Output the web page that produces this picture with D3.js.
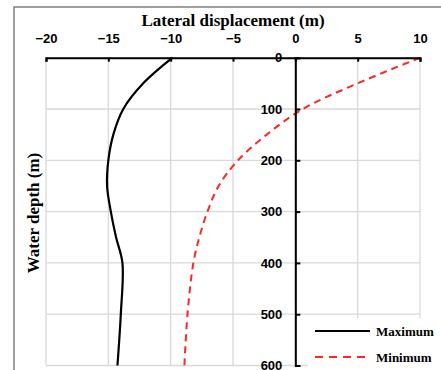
<!DOCTYPE html>
<html>
<head>
<meta charset="utf-8">
<script src="https://cdn.jsdelivr.net/npm/d3@7"></script>
<style>
  body { margin: 0; background: #fff; }
  svg { display: block; }
</style>
</head>
<body>
<div id="chart"></div>
<script>
// depth (m) and lateral displacement (m)
let depths = [0, 50, 100, 150, 200, 250, 300, 350, 400, 500, 600];
let maxDisp = [-9.85, -12.2, -13.8, -14.6, -15.0, -15.1, -14.8, -14.38, -13.87, -14.0, -14.27];
let minDisp = [10, 5.0, 0.6, -2.3, -4.6, -6.15, -7.05, -7.7, -8.18, -8.65, -8.9];
let xTicks = [-20, -15, -10, -5, 0, 5, 10];
let yTicks = [0, 100, 200, 300, 400, 500, 600];
let seriesNames = ["Maximum", "Minimum"];

let svg = d3.select("#chart").append("svg")
    .attr("width", 441)
    .attr("height", 370);

let xScale = d3.scaleLinear().domain([-20, 10]).range([46, 420]);
let yScale = d3.scaleLinear().domain([0, 600]).range([57.7, 365.5]);

// outer frame
svg.append("path")
    .attr("d", "M14,370 L14,7 L441,7")
    .attr("fill", "none")
    .attr("stroke", "#808080")
    .attr("stroke-width", 1.5);

// gridlines
let grid = svg.append("g");
grid.selectAll(".vg")
    .data(xTicks)
    .join("line")
    .attr("x1", d => xScale(d)).attr("x2", d => xScale(d))
    .attr("y1", yScale(0)).attr("y2", yScale(600))
    .attr("stroke", "#d9d9d9").attr("stroke-width", 1.3);
grid.selectAll(".hg")
    .data(yTicks)
    .join("line")
    .attr("y1", d => yScale(d)).attr("y2", d => yScale(d))
    .attr("x1", xScale(-20)).attr("x2", xScale(10))
    .attr("stroke", "#d9d9d9").attr("stroke-width", 1.3);

// series lines
let line = function(vals, curve) {
    return d3.line()
        .x((d, i) => xScale(vals[i]))
        .y(d => yScale(d))
        .curve(curve)(depths);
};

svg.append("path")
    .attr("d", line(maxDisp, d3.curveCatmullRom.alpha(0.5)))
    .attr("fill", "none")
    .attr("stroke", "#000")
    .attr("stroke-width", 2.2);

svg.append("path")
    .attr("d", line(minDisp, d3.curveCatmullRom.alpha(0.5)))
    .attr("fill", "none")
    .attr("stroke", "#ff2626")
    .attr("stroke-width", 2)
    .attr("stroke-dasharray", "7,5");

// x axis on top (depth 0)
let xAxis = svg.append("g")
    .attr("transform", "translate(0," + yScale(0) + ")")
    .call(d3.axisTop(xScale).tickValues(xTicks).tickSizeInner(-4).tickSizeOuter(-4).tickPadding(15));

// y axis at displacement 0
let yAxis = svg.append("g")
    .attr("transform", "translate(" + xScale(0) + ",0)")
    .call(d3.axisLeft(yScale).tickValues(yTicks).tickSizeInner(-5).tickSizeOuter(-5).tickPadding(13));

[xAxis, yAxis].forEach(function(ax) {
    ax.selectAll("path, line").attr("stroke", "#000").attr("stroke-width", 2);
    ax.selectAll("text")
        .attr("fill", "#000")
        .style("font-family", "'Liberation Sans', Arial, sans-serif")
        .style("font-weight", "bold")
        .style("font-size", "13px");
});

// titles
svg.append("text")
    .attr("x", 233)
    .attr("y", 26)
    .attr("text-anchor", "middle")
    .style("font-family", "'Liberation Serif', 'Times New Roman', serif")
    .style("font-weight", "bold")
    .style("font-size", "17px")
    .text("Lateral displacement (m)");

svg.append("text")
    .attr("transform", "translate(39,213) rotate(-90)")
    .attr("text-anchor", "middle")
    .style("font-family", "'Liberation Serif', 'Times New Roman', serif")
    .style("font-weight", "bold")
    .style("font-size", "17px")
    .text("Water depth (m)");

// legend
let legend = svg.append("g");
legend.append("rect")
    .attr("x", 308).attr("y", 318)
    .attr("width", 133).attr("height", 52)
    .attr("fill", "#fff");

let legendStyles = [
    {stroke: "#000", dash: null, width: 2.2},
    {stroke: "#ff2626", dash: "8,6", width: 2}
];

legend.selectAll(".item")
    .data(seriesNames)
    .join("g")
    .attr("transform", (d, i) => "translate(0," + (331 + i * 26) + ")")
    .each(function(d, i) {
        let g = d3.select(this);
        g.append("line")
            .attr("x1", 315).attr("x2", 370)
            .attr("stroke", legendStyles[i].stroke)
            .attr("stroke-width", legendStyles[i].width)
            .attr("stroke-dasharray", legendStyles[i].dash);
        g.append("text")
            .attr("x", 376)
            .attr("y", 4.5)
            .style("font-family", "'Liberation Serif', 'Times New Roman', serif")
            .style("font-weight", "bold")
            .style("font-size", "13px")
            .text(d);
    });
</script>
</body>
</html>
